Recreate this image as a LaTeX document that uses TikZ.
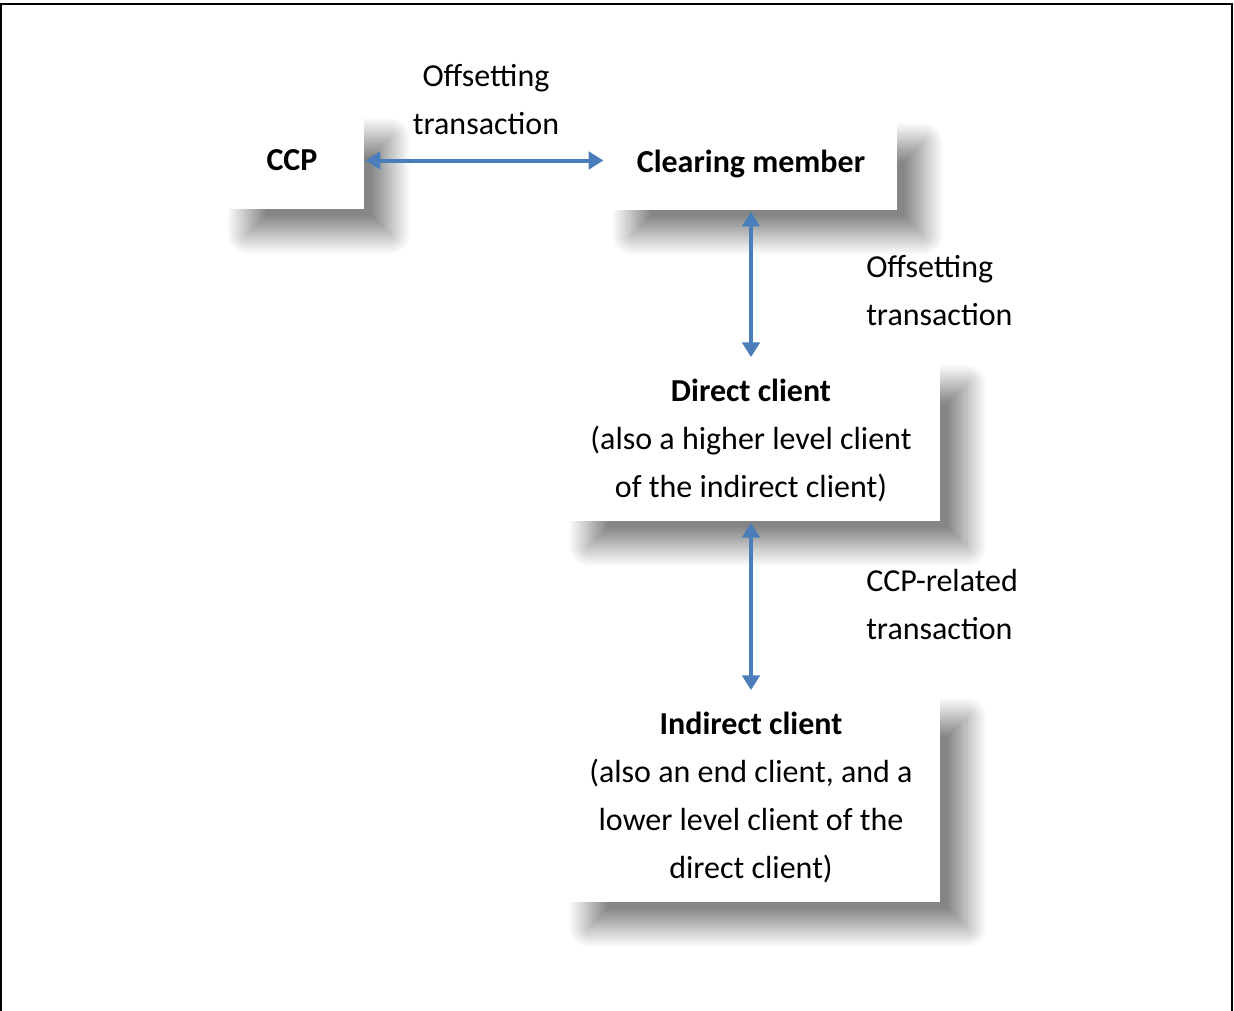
\documentclass[tikz,border=0pt]{standalone}
\usepackage{fontspec}
\setmainfont{Carlito}
\usetikzlibrary{arrows.meta,shadows.blur}
\definecolor{linkblue}{RGB}{74,126,187}

\begin{document}
\begin{tikzpicture}[x=0.75pt,y=-0.75pt,
  every node/.style={font=\fontsize{24pt}{36pt}\selectfont},
  party/.style={fill=white, inner sep=0pt, align=center,
    blur shadow={shadow xshift=20pt, shadow yshift=-19pt, shadow blur radius=15pt, shadow blur steps=30, shadow opacity=48}},
  link/.style={{Triangle[length=11pt,width=13pt]}-{Triangle[length=11pt,width=13pt]}, line width=3pt, linkblue, shorten <=1pt, shorten >=1pt},
  note/.style={align=left, inner sep=0pt}]
\useasboundingbox (0,0) rectangle (1234,1010);
\draw[line width=1.9pt] (1,1015) -- (1,4) -- (1232,4) -- (1232,1015);

\node[party, minimum width=108pt, minimum height=73pt] (ccp) at (292,160.5) {\textbf{CCP}};
\node[party, minimum width=219pt, minimum height=70pt] (member) at (751,163.5) {\textbf{Clearing member}};
\node[party, minimum width=284pt, minimum height=122pt] (direct) at (751,440) {\textbf{Direct client}\\(also a higher level client\\of the indirect client)};
\node[party, minimum width=284pt, minimum height=158pt] (indirect) at (751,797) {\textbf{Indirect client}\\(also an end client, and a\\lower level client of the\\direct client)};

\draw[link] (ccp.east) -- (ccp.east -| member.west);
\draw[link] (member) -- (direct);
\draw[link] (direct) -- (indirect);

\node[align=center, inner sep=0pt] (tag1) at (486,100) {Offsetting\\transaction};
\node[note, anchor=west] (tag2) at (866,291) {Offsetting\\transaction};
\node[note, anchor=west] (tag3) at (866,604.5) {CCP-related\\transaction};
\end{tikzpicture}
\end{document}
